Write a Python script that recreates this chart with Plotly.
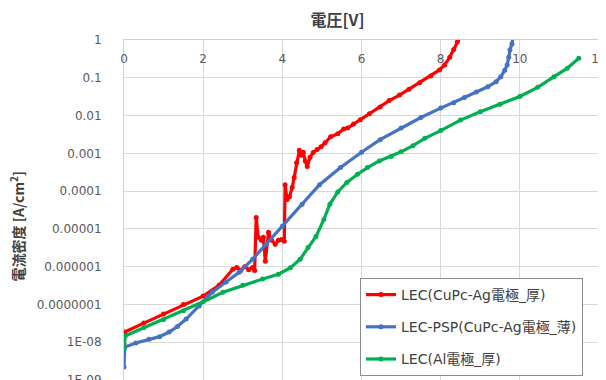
import plotly.graph_objects as go

# ---- data (voltage [V], current density [A/cm2]) ----
red_name = "LEC(CuPc-Ag電極_厚)"
red_v = [0, 0.02, 0.5, 1.0, 1.5, 2.0, 2.4, 2.75, 2.85, 2.95, 3.05, 3.15, 3.25, 3.3,
         3.34, 3.39, 3.47, 3.52, 3.57, 3.65, 3.73, 3.82, 3.9, 3.98, 4.05,
         4.07, 4.12, 4.18, 4.25, 4.3, 4.36, 4.43, 4.48, 4.53, 4.58, 4.63, 4.7,
         4.78, 4.88, 4.98, 5.08, 5.22, 5.4, 5.55, 5.65, 5.8, 5.97, 6.2, 6.47,
         6.7, 6.96, 7.2, 7.47, 7.75, 7.97, 8.1, 8.23, 8.33, 8.42, 8.5]
red_j = [8.9e-9, 1.86e-8, 3.2e-8, 5.6e-8, 1.0e-7, 1.66e-7, 3.2e-7, 8.5e-7, 9.5e-7, 7.9e-7,
         1.0e-6, 8.3e-7, 9.5e-7, 7.9e-7,
         2.0e-5, 6.0e-6, 5.0e-6, 6.0e-6, 1.38e-6, 8.1e-6, 5.0e-6, 3.9e-6, 5.0e-6, 5.2e-6, 4.7e-6,
         1.48e-4, 6.0e-5, 7.1e-5, 1.26e-4, 2.3e-4, 5.6e-4, 1.2e-3, 8.9e-4, 1.07e-3, 6.3e-4, 4.5e-4, 7.9e-4,
         1.05e-3, 1.26e-3, 1.5e-3, 1.9e-3, 2.75e-3, 3.3e-3, 4.4e-3, 4.7e-3, 6.0e-3, 7.8e-3, 1.12e-2, 1.7e-2,
         2.5e-2, 3.5e-2, 5.0e-2, 7.4e-2, 0.112, 0.162, 0.22, 0.35, 0.56, 0.89, 1.26]

blue_name = "LEC-PSP(CuPc-Ag電極_薄)"
blue_v = [0, 0.02, 0.3, 0.63, 0.9, 1.14, 1.35, 1.57, 1.9, 2.23, 2.58, 2.91, 3.25, 3.59,
          4.0, 4.5, 4.94, 5.47, 6.0, 6.47, 7.0, 7.5, 8.0, 8.33, 8.6, 8.9, 9.19, 9.4,
          9.52, 9.62, 9.68, 9.72, 9.75, 9.8, 9.82]
blue_j = [2.2e-9, 7.4e-9, 9.5e-9, 1.2e-8, 1.4e-8, 1.86e-8, 2.6e-8, 4.1e-8, 9.1e-8, 2.1e-7,
          3.9e-7, 7.1e-7, 1.58e-6, 3.9e-6, 1.17e-5, 4.5e-5, 1.48e-4, 4.2e-4, 1.07e-3, 2.3e-3,
          4.7e-3, 8.9e-3, 1.58e-2, 2.2e-2, 3.0e-2, 4.2e-2, 5.8e-2, 7.9e-2, 0.107, 0.16, 0.22,
          0.35, 0.55, 0.79, 1.12]

green_name = "LEC(Al電極_厚)"
green_v = [0, 0.03, 0.5, 1.0, 1.5, 2.0, 2.5, 3.0, 3.5, 3.9, 4.2, 4.45, 4.65, 4.85, 5.05,
           5.2, 5.4, 5.63, 5.9, 6.15, 6.45, 6.75, 7.0, 7.3, 7.6, 8.0, 8.5, 9.0, 9.5, 10.0,
           10.45, 10.86, 11.2, 11.49]
green_j = [6.6e-9, 1.45e-8, 2.4e-8, 4.0e-8, 6.8e-8, 1.17e-7, 2.1e-7, 3.2e-7, 4.7e-7, 6.3e-7,
           9.3e-7, 1.58e-6, 3.2e-6, 6.3e-6, 1.78e-5, 4.5e-5, 9.5e-5, 1.7e-4, 2.8e-4, 4.2e-4,
           6.3e-4, 8.3e-4, 1.1e-3, 1.6e-3, 2.5e-3, 4.0e-3, 7.6e-3, 1.26e-2, 2.0e-2, 3.2e-2,
           5.6e-2, 0.107, 0.18, 0.33]

x_ticks = [0, 2, 4, 6, 8, 10, 12]
y_ticks = [1, 0.1, 0.01, 0.001, 0.0001, 0.00001, 0.000001, 0.0000001, 1e-8, 1e-9]
y_tick_text = ["1", "0.1", "0.01", "0.001", "0.0001", "0.00001", "0.000001",
               "0.0000001", "1E-08", "1E-09"]

x_title = "電圧[V]"
y_title = "電流密度 [A/cm<sup>2</sup>]"

# ---- figure ----
series = [
    (red_name, red_v, red_j, "#FF0000"),
    (blue_name, blue_v, blue_j, "#4472C4"),
    (green_name, green_v, green_j, "#00B050"),
]

fig = go.Figure()
for i, (name, v, j, col) in enumerate(series):
    fig.add_trace(go.Scatter(
        x=v, y=j, name=name, mode="lines+markers",
        line=dict(color=col, width=3.2),
        marker=dict(color=col, size=5),
        legendgroup="g%d" % i,
        cliponaxis=True,
    ))

# the page has an 8px body margin: figure pixel = screen pixel - 8
OFF = 8
W, H = 606 - OFF, 380 - OFF
L, R, T = 124 - OFF, 606 - 599, 40 - OFF
PW, PH = W - L - R, H - T

tick_font = dict(family="DejaVu Sans, Noto Sans CJK JP", size=12, color="#595959")

fig.update_layout(
    width=W, height=H,
    margin=dict(l=L, r=R, t=T, b=0),
    paper_bgcolor="white", plot_bgcolor="white",
    title=dict(text=x_title, x=(337.5 - OFF) / W, y=1 - (20 - OFF) / H,
               xref="container", yref="container",
               xanchor="center", yanchor="middle",
               font=dict(family="Noto Sans CJK JP", size=16, color="#404040", weight="bold")),
    legend=dict(x=(360 - 124) / PW, y=(380 - 278) / PH, xanchor="left", yanchor="top",
                bgcolor="white", bordercolor="#8c8c8c", borderwidth=1,
                tracegroupgap=11,
                font=dict(family="DejaVu Sans, Noto Sans CJK JP", size=14, color="#404040")),
    showlegend=True,
)

fig.update_xaxes(
    range=[0, 12], side="top", tickvals=x_ticks, ticktext=[str(t) for t in x_ticks],
    ticklabelposition="inside", ticks="", ticklabelstandoff=14, ticklabeloverflow="allow",
    showline=True, linecolor="#d0d0d0", linewidth=1,
    showgrid=True, gridcolor="#d9d9d9", gridwidth=1,
    zeroline=False, automargin=False, tickfont=tick_font,
)
fig.update_yaxes(
    type="log", range=[-9.002, 0.002], tickvals=y_ticks, ticktext=y_tick_text,
    ticks="", ticklabelstandoff=19, ticklabeloverflow="allow",
    showline=True, linecolor="#d0d0d0", linewidth=1,
    showgrid=True, gridcolor="#d9d9d9", gridwidth=1,
    zeroline=False, automargin=False, tickfont=tick_font,
)

fig.add_annotation(
    text=y_title, textangle=-90, xref="paper", yref="paper",
    x=(17.5 - 124) / PW, y=(380 - 226) / PH, xanchor="center", yanchor="middle",
    showarrow=False,
    font=dict(family="Noto Sans CJK JP", size=14, color="#404040", weight="bold"),
)

fig.write_html("out.html")
